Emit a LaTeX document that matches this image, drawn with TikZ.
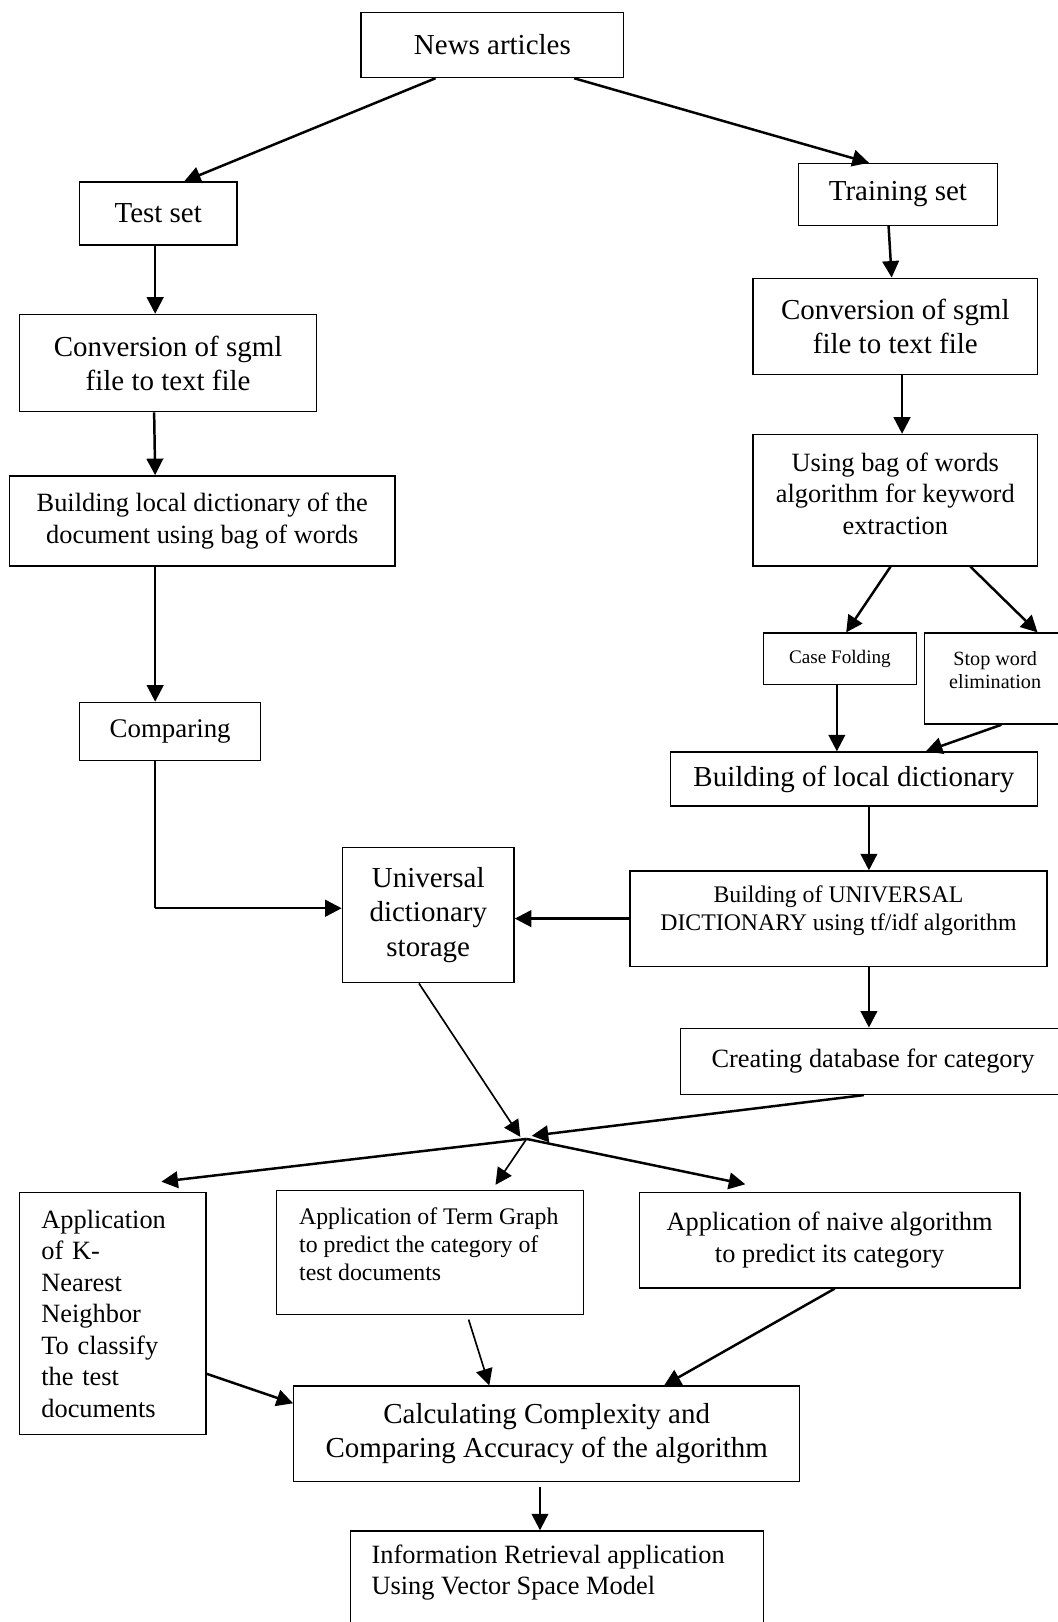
\documentclass[tikz,border=0pt]{standalone}
\usepackage{fontspec}
\setmainfont{Liberation Serif}
\usetikzlibrary{arrows.meta, positioning}

\newcommand{\fbig}{\fontsize{28}{33}\selectfont}
\newcommand{\fmid}{\fontsize{25.5}{30.5}\selectfont}
\newcommand{\fsmall}{\fontsize{23}{27}\selectfont}
\newcommand{\ftiny}{\fontsize{18.5}{22}\selectfont}

\begin{document}
\begin{tikzpicture}[
      x=1pt, y=-1pt, % picture measured in pixels, y running down
      >={Triangle[length=16pt, width=16pt]},
      box/.style={
        rectangle,
        draw,
        line width=1.3pt,
        inner sep=0pt,
        align=center,
        font=\fbig
      },
      txt/.style={inner sep=0pt, align=center},
      flow/.style={->, line width=2.4pt},
      thinflow/.style={->, line width=1.6pt}
    ]
    \useasboundingbox (0,0) rectangle (1022,1568);

    % left branch (test set)
    \node[box, minimum width=254pt, minimum height=63pt] (news) at (476,43.5) {News articles};
    \node[box, minimum width=152pt, minimum height=61pt] (test) at (153,206.5) {Test set};
    \node[box, minimum width=287pt, minimum height=94pt] (convL) at (162.5,351) {Conversion of sgml\\file to text file};
    \node[box, font=\fmid, minimum width=373pt, minimum height=87pt] (localdoc) at (195.5,503.5) {Building local dictionary of the\\document using bag of words};
    \node[box, font=\fontsize{26}{31}\selectfont, minimum width=175pt, minimum height=56pt] (comp) at (164.5,707) {Comparing};

    % right branch (training set)
    \node[box, minimum width=192pt, minimum height=60pt] (train) at (868,188) {Training set};
    \node[box, minimum width=275pt, minimum height=93pt] (convR) at (865.5,315.5) {Conversion of sgml\\file to text file};
    \node[box, minimum width=275pt, minimum height=127pt] (bag) at (865.5,483.5) {};
    \node[txt, font=\fmid] (bagtxt) at (865.5,477) {Using bag of words\\algorithm for keyword\\extraction};
    \node[box, font=\ftiny, minimum width=148pt, minimum height=50pt] (casef) at (812,637) {Case Folding};
    \node[box, minimum width=136pt, minimum height=88pt] (stopw) at (962,656) {};
    \node[txt, font=\fontsize{19.5}{22}\selectfont] (stopwtxt) at (962,648) {Stop word\\elimination};
    \node[box, minimum width=355pt, minimum height=52pt] (localdict) at (825.5,753) {Building of local dictionary};
    \node[box, minimum width=403pt, minimum height=92pt] (univbuild) at (810.5,888) {};
    \node[txt, font=\fsmall] (univbuildtxt) at (810.5,880.5) {Building of UNIVERSAL\\DICTIONARY using tf/idf algorithm};
    \node[box, font=\fmid, minimum width=372pt, minimum height=64pt] (catdb) at (844,1026) {Creating database for category};

    % shared store
    \node[box, minimum width=166pt, minimum height=131pt] (univ) at (414,884.5) {Universal\\dictionary\\storage};

    % classifiers
    \node[box, font=\fmid, align=left, text width=138pt, inner xsep=21pt, minimum height=234pt] (knn) at (109,1270) {Application\\of K-\\Nearest\\Neighbor\\To classify\\the test\\documents};
    \node[box, minimum width=297pt, minimum height=120pt] (termg) at (415.5,1211) {};
    \node[txt, font=\fsmall, align=left, anchor=west] (termgtxt) at (289,1203) {Application of Term Graph\\to predict the category of\\test documents};
    \node[box, font=\fmid, minimum width=368pt, minimum height=92pt] (naive) at (802,1199) {Application of naive algorithm\\to predict its category};
    \node[box, minimum width=489pt, minimum height=92pt] (calc) at (528.5,1386) {Calculating Complexity and\\Comparing Accuracy of the algorithm};
    \node[box, minimum width=399pt, minimum height=100pt] (info) at (538.5,1530) {};
    \node[txt, font=\fmid, align=left, anchor=west] (infotxt) at (359,1520) {Information Retrieval application\\Using Vector Space Model};

    % connectors
    \draw[flow] ([xshift=-55pt]news.south) -- ([xshift=25pt]test.north);
    \draw[flow] ([xshift=79pt]news.south) -- ([xshift=-28pt]train.north);
    \draw[flow] ([xshift=-3pt]test.south) -- ([xshift=-12.5pt]convL.north);
    \draw[flow] ([xshift=-9pt]train.south) -- ([xshift=-3.5pt]convR.north);
    \draw[flow] ([xshift=-13.5pt]convL.south) -- ([xshift=-45.5pt]localdoc.north);
    \draw[flow] ([xshift=6.5pt]convR.south) -- ([xshift=6.5pt]bag.north);
    \draw[flow] ([xshift=-45.5pt]localdoc.south) -- ([xshift=-14.5pt]comp.north);
    \coordinate (cmpturn) at (150,878);
    \draw[line width=1.6pt] ([xshift=-14.5pt]comp.south) -- (cmpturn);
    \draw[flow] (cmpturn) -- (cmpturn -| univ.west);
    \draw[flow] ([xshift=-4.5pt]bag.south) -- ([xshift=6pt]casef.north);
    \draw[flow] ([xshift=72.5pt]bag.south) -- ([xshift=41pt]stopw.north);
    \draw[flow] ([xshift=-3pt]casef.south) -- ([xshift=-16.5pt]localdict.north);
    \draw[flow] ([xshift=6pt]stopw.south) -- ([xshift=69.5pt]localdict.north);
    \draw[flow] ([xshift=14.5pt]localdict.south) -- ([xshift=29.5pt]univbuild.north);
    \draw[flow] (univbuild.west) -- (univbuild.west -| univ.east);
    \draw[flow] ([xshift=29.5pt]univbuild.south) -- ([xshift=-4pt]catdb.north);

    \coordinate (junc) at (509,1101);
    \draw[thinflow] ([xshift=-9pt]univ.south) -- ([xshift=-6pt, yshift=2pt]junc);
    \draw[flow] ([xshift=-9pt]catdb.south) -- ([xshift=5pt, yshift=3pt]junc);
    \draw[flow] (junc) -- ([xshift=47pt, yshift=10pt]knn.north);
    \draw[thinflow] (junc) -- ([xshift=63.5pt, yshift=5pt]termg.north);
    \draw[flow] (junc) -- ([xshift=-81.5pt, yshift=7.5pt]naive.north);

    \draw[flow] ([yshift=-58pt]knn.east) -- ([yshift=29.4pt]calc.west);
    \draw[thinflow] ([xshift=37.5pt, yshift=-4pt]termg.south) -- ([xshift=-55.5pt]calc.north);
    \draw[flow] ([xshift=5pt]naive.south) -- ([xshift=113.5pt]calc.north);
    \draw[flow] ([xshift=-6.5pt, yshift=-5pt]calc.south) -- ([xshift=-16.5pt]info.north);
  \end{tikzpicture}
\end{document}
